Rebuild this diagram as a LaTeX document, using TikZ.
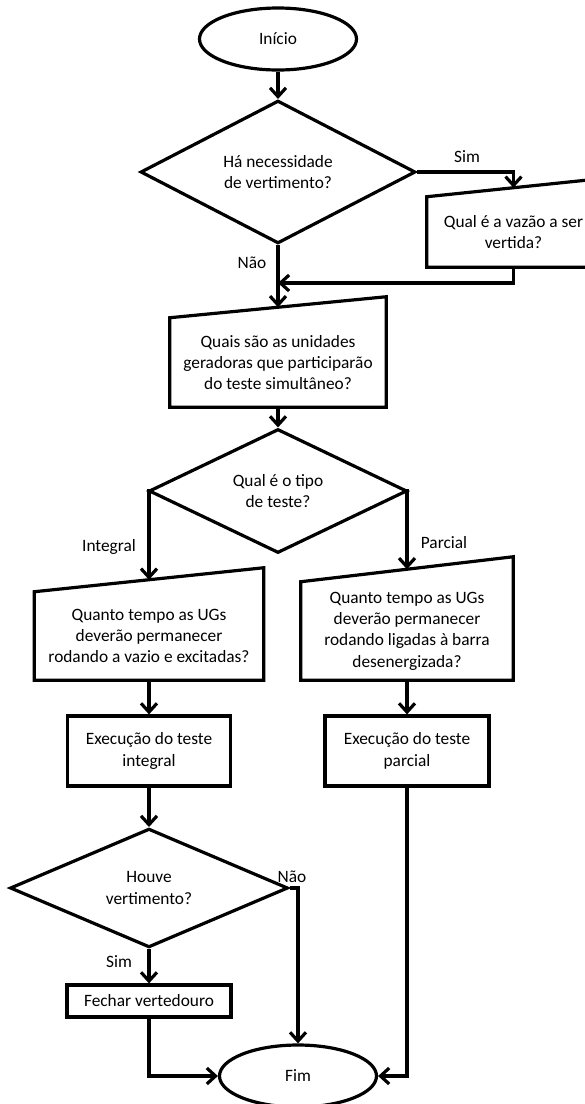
\documentclass[tikz,border=0pt]{standalone}
\usepackage{fontspec}
\setmainfont{Carlito}
\usetikzlibrary{shapes.geometric}
\usetikzlibrary{arrows.meta, positioning}

\tikzset{
  flowline/.style={line width=2.4pt},
  flowarrow/.style={flowline, -{Straight Barb[length=2.3mm, width=4.2mm]}},
  terminal/.style={ellipse, draw, flowline, minimum width=117.75pt, minimum height=46.5pt, inner sep=0pt},
  decision/.style={diamond, draw, flowline, align=center, inner sep=0pt},
  process/.style={rectangle, draw, flowline, align=center, inner sep=0pt},
  inputbox/.style={rectangle, align=center, inner sep=0pt},
  branchlabel/.style={inner sep=0pt}
}

% outline of a manual input box: #1 node, #2 rise of the top right corner (px)
\newcommand{\manualin}[2]{%
  \draw[flowline] (#1.south west) -- (#1.south east) -- ([yshift=#2*0.75pt]#1.north east) -- (#1.north west) -- cycle;
  \coordinate (#1-top) at ([yshift=#2*0.375pt]#1.north);
}

\begin{document}
\begin{tikzpicture}[x=0.75pt, y=-0.75pt, font=\fontsize{13}{16}\selectfont]
    \useasboundingbox (0,0) rectangle (585,1104);

    % Start and first question
    \node[terminal] (inicio) at (278,39) {Início};
    \node[decision, minimum width=206.25pt, minimum height=95.25pt] (vertq) at (278,172) {Há necessidade\\de vertimento?};

    % Flow to spill
    \node[inputbox, minimum width=129.75pt, minimum height=52.5pt] (vazao) at (513.5,232) {Qual é a vazão a ser\\vertida?};
    \manualin{vazao}{18}

    % Units of the test
    \node[inputbox, minimum width=162pt, minimum height=66.75pt] (unidades) at (278,362.5) {Quais são as unidades\\geradoras que participarão\\do teste simultâneo?};
    \manualin{unidades}{21}
    \coordinate (merge) at (278,283);

    % Type of test
    \node[decision, minimum width=193.5pt, minimum height=88.5pt] (tipoq) at (278,491) {Qual é o tipo\\de teste?};

    % Integral branch
    \node[inputbox, minimum width=171.75pt, minimum height=66pt] (tempoint) at (149,636) {Quanto tempo as UGs\\deverão permanecer\\rodando a vazio e excitadas?};
    \manualin{tempoint}{24}
    \node[process, minimum width=122.25pt, minimum height=52.5pt] (execint) at (149,751) {Execução do teste\\integral};
    \node[decision, minimum width=208.5pt, minimum height=87pt] (houveq) at (149,888) {Houve\\vertimento?};
    \node[process, minimum width=123pt, minimum height=24pt] (fechar) at (149,1001) {Fechar vertedouro};

    % Partial branch
    \node[inputbox, minimum width=159pt, minimum height=73.5pt] (tempopar) at (407,631) {Quanto tempo as UGs\\deverão permanecer\\rodando ligadas à barra\\desenergizada?};
    \manualin{tempopar}{25}
    \node[process, minimum width=123pt, minimum height=52.5pt] (execpar) at (407,751) {Execução do teste\\parcial};

    % End
    \node[terminal] (fim) at (298,1076) {Fim};

    % Connectors
    \draw[flowarrow] (inicio.south) -- (vertq.north);
    \draw[flowarrow] (vertq.east) -| (vazao-top);
    \draw[flowarrow] (vazao.south) |- (merge);
    \draw[flowarrow] (vertq.south) -- (unidades-top);
    \draw[flowarrow] (unidades.south) -- (tipoq.north);
    \draw[flowarrow] (tipoq.west) -| (tempoint-top);
    \draw[flowarrow] (tipoq.east) -| (tempopar-top);
    \draw[flowarrow] (tempoint.south) -- (execint.north);
    \draw[flowarrow] (tempopar.south) -- (execpar.north);
    \draw[flowarrow] (execint.south) -- (houveq.north);
    \draw[flowarrow] (houveq.south) -- (fechar.north);
    \draw[flowarrow] (houveq.east) -| (fim.north);
    \draw[flowarrow] (fechar.south) |- (fim.west);
    \draw[flowarrow] (execpar.south) |- (fim.east);

    % Branch labels
    \node[branchlabel] (simvert) at (467,157) {Sim};
    \node[branchlabel] (naovert) at (252,263) {Não};
    \node[branchlabel] (integral) at (109,547) {Integral};
    \node[branchlabel] (parcial) at (444,543) {Parcial};
    \node[branchlabel] (naohouve) at (292,877) {Não};
    \node[branchlabel] (simhouve) at (119,962) {Sim};
\end{tikzpicture}
\end{document}
